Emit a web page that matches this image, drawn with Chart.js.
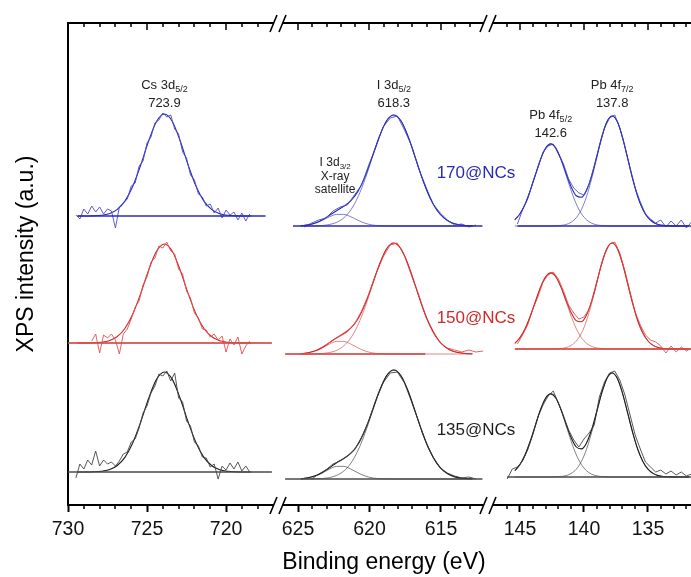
<!DOCTYPE html>
<html>
<head>
<meta charset="utf-8">
<title>XPS spectra</title>
<script src="https://cdn.jsdelivr.net/npm/chart.js@4.4.1/dist/chart.umd.min.js"></script>
<style>
  html, body { margin: 0; padding: 0; background: #fff; }
  #wrap { width: 691px; height: 577px; }
</style>
</head>
<body>
<div id="wrap"><canvas id="xps" width="691" height="577"></canvas></div>
<script>
const FONT = '"Liberation Sans", Arial, Helvetica, sans-serif';

// energy grids (eV)
const csFitEnergy = [729.4, 728.9, 728.4, 727.9, 727.4, 726.9, 726.4, 725.9, 725.4, 724.9, 724.4, 723.9,
  723.4, 722.9, 722.4, 721.9, 721.4, 720.9, 720.4, 719.9, 719.4, 718.9, 718.4];
const csRawEnergy = [729.5, 729.25, 729.0, 728.75, 728.5, 728.25, 728.0, 727.75, 727.5, 727.25, 727.0, 726.75,
  726.5, 726.25, 726.0, 725.75, 725.5, 725.25, 725.0, 724.75, 724.5, 724.25, 724.0, 723.75, 723.5, 723.25,
  723.0, 722.75, 722.5, 722.25, 722.0, 721.75, 721.5, 721.25, 721.0, 720.75, 720.5, 720.25, 720.0, 719.75,
  719.5, 719.25, 719.0, 718.75, 718.5];
const iFitEnergy = [624.8, 624.3, 623.8, 623.3, 622.8, 622.3, 621.8, 621.3, 620.8, 620.3, 619.8, 619.3,
  618.8, 618.3, 617.8, 617.3, 616.8, 616.3, 615.8, 615.3, 614.8, 614.3, 613.8, 613.3, 612.8];
const iRawEnergy = [624.55, 624.05, 623.55, 623.05, 622.55, 622.05, 621.55, 621.05, 620.55, 620.05, 619.55,
  619.05, 618.55, 618.05, 617.55, 617.05, 616.55, 616.05, 615.55, 615.05, 614.55, 614.05, 613.55, 613.05,
  612.55, 612.05];
const pbFitEnergy = [145.4, 145.0, 144.6, 144.2, 143.8, 143.4, 143.0, 142.6, 142.2, 141.8, 141.4, 141.0,
  140.6, 140.2, 139.8, 139.4, 139.0, 138.6, 138.2, 137.8, 137.4, 137.0, 136.6, 136.2, 135.8, 135.4, 135.0,
  134.6, 134.2, 133.8, 133.4, 133.0, 132.6, 132.2, 131.8];
const pbRawEnergy = [146.0, 145.6, 145.2, 144.8, 144.4, 144.0, 143.6, 143.2, 142.8, 142.4, 142.0, 141.6,
  141.2, 140.8, 140.4, 140.0, 139.6, 139.2, 138.8, 138.4, 138.0, 137.6, 137.2, 136.8, 136.4, 136.0, 135.6,
  135.2, 134.8, 134.4, 134.0, 133.6, 133.2, 132.8, 132.4, 132.0, 131.6];

const samples = ['170@NCs', '150@NCs', '135@NCs'];

// vertical offset of each stacked spectrum (a.u.)
const csOffset = [289, 162, 33];
const iOffset = [279, 151, 26];
const pbOffset = [279, 156, 28];

// extent of the background lines (eV)
const csBaseStart = [729.4, 730, 730];
const csBaseEnd = [717.5, 717.1, 717.1];
const iBaseStart = [625.35, 625.9, 625.9];
const iBaseEnd = [612.1, 616.1, 612.1];
const pbBaseStart = [145.2, 145.4, 146.0];
const pbBaseEnd = [131.6, 131.6, 131.6];

// Cs 3d5/2 : measured and fitted
const csRaw170 = [1, -3, 7, 2, 10, 4, 9, 2, 7, 5, -12, 9, 13, 17, 30, 33, 50, 55, 73, 79, 93, 96, 103, 99, 101,
  87, 82, 64, 58, 41, 36, 22, 19, 10, 12, 3, 8, -2, 6, 1, 4, -4, 3, -5, 2];
const csRaw150 = [null, null, null, null, 2, 9, -10, 8, 5, 9, 3, -11, 9, 14, 24, 36, 42, 58, 66, 81, 85, 97, 95,
  101, 92, 89, 74, 69, 52, 45, 30, 25, 14, 13, 6, 9, 3, 7, -9, 4, -2, 6, -11, -3, 2];
const csRaw135 = [-6, 8, 3, 12, 7, 21, 6, 12, 8, 10, 6, 11, 18, 20, 30, 33, 44, 59, 66, 79, 86, 98, 96, 101, 91,
  99, 74, 70, 51, 46, 30, 26, 15, 14, 5, 8, -7, 6, 2, 9, 3, 10, 1, 6, 0];
const csFit170 = [0, 0, 0.2, 0.7, 2.3, 6.4, 14.9, 29.8, 51, 75, 94.5, 102, 94.5, 75, 51, 29.8, 14.9, 6.4, 2.3,
  0.7, 0.2, 0, 0];
const csFit150 = [0, 0, 0.2, 0.7, 2.3, 6.2, 14.5, 28.9, 49.5, 72.8, 91.7, 99, 91.7, 72.8, 49.5, 28.9, 14.5, 6.2,
  2.3, 0.7, 0.2, 0, 0];
const csFit135 = [0, 0, 0.2, 0.7, 2.3, 6.3, 14.6, 29.2, 50, 73.5, 92.6, 100, 92.6, 73.5, 50, 29.2, 14.6, 6.3,
  2.3, 0.7, 0.2, 0, 0];

// I 3d5/2 with the I 3d3/2 X-ray satellite
const iRaw170 = [-1, 3, 6, 8, 15, 19, 21, 31, 41, 61, 79, 99, 108, 110, 96, 80, 57, 39, 22, 13, 6, 1, 2, -1, 1, null];
const iRaw150 = [null, null, 5, 9, 14, 18, 22, 30, 43, 60, 80, 97, 109, 111, 98, 78, 59, 37, 23, 11, 6, 4, 2, 4, 2, 3];
const iRaw135 = [null, 0, 5, 9, 15, 18, 23, 29, 42, 58, 79, 96, 106, 107, 96, 77, 57, 37, 22, 11, 6, 3, 1, 2, 0, null];
const iMain170 = [0, 0.1, 0.2, 0.5, 1.5, 3.6, 8.1, 16.2, 29.2, 47.2, 68.6, 89.6, 105.2, 111, 105.2, 89.6, 68.6,
  47.2, 29.2, 16.2, 8.1, 3.6, 1.5, 0.5, 0.2];
const iMain150 = [0, 0.1, 0.2, 0.5, 1.5, 3.6, 8.1, 16.2, 29.2, 47.2, 68.6, 89.6, 105.2, 111, 105.2, 89.6, 68.6,
  47.2, 29.2, 16.2, 8.1, 3.6, 1.5, 0.5, 0.2];
const iMain135 = [0, 0.1, 0.2, 0.5, 1.4, 3.6, 7.9, 15.9, 28.7, 46.3, 67.4, 88.0, 103.3, 109, 103.3, 88.0, 67.4,
  46.3, 28.7, 15.9, 7.9, 3.6, 1.4, 0.5, 0.2];
const iSat170 = [0.3, 1.0, 2.7, 5.7, 9.2, 11.6, 11.6, 9.2, 5.7, 2.7, 1.0, 0.3, 0.1, 0, 0, 0, 0, 0, 0, 0, 0, 0, 0, 0, 0];
const iSat150 = [0.3, 1.1, 3.0, 6.1, 9.9, 12.6, 12.6, 9.9, 6.1, 3.0, 1.1, 0.3, 0.1, 0, 0, 0, 0, 0, 0, 0, 0, 0, 0, 0, 0];
const iSat135 = [0.3, 1.1, 3.0, 6.1, 9.9, 12.6, 12.6, 9.9, 6.1, 3.0, 1.1, 0.3, 0.1, 0, 0, 0, 0, 0, 0, 0, 0, 0, 0, 0, 0];
const iEnv170 = [0.3, 1.1, 2.9, 6.2, 10.7, 15.2, 19.7, 25.4, 34.9, 49.9, 69.6, 89.9, 105.3, 111, 105.2, 89.6, 68.6,
  47.2, 29.2, 16.2, 8.1, 3.6, 1.5, 0.5, 0.2];
const iEnv150 = [0.3, 1.2, 3.2, 6.6, 11.4, 16.2, 20.7, 26.1, 35.3, 50.2, 69.7, 89.9, 105.3, 111, 105.2, 89.6, 68.6,
  47.2, 29.2, 16.2, 8.1, 3.6, 1.5, 0.5, 0.2];
const iEnv135 = [0.3, 1.2, 3.2, 6.6, 11.3, 16.2, 20.5, 25.8, 34.8, 49.3, 68.5, 88.3, 103.4, 109, 103.3, 88.0, 67.4,
  46.3, 28.7, 15.9, 7.9, 3.6, 1.4, 0.5, 0.2];

// Pb 4f doublet
const pbRaw170 = [null, null, 2, 16, 27, 44, 58, 74, 80, 82, 72, 62, 47, 38, 33, 31, 42, 60, 80, 98, 108, 111, 98,
  79, 58, 38, 24, 12, 7, 3, 6, -1, 5, 0, 6, -2, 4];
const pbRaw150 = [null, null, 5, 14, 24, 40, 52, 67, 74, 77, 70, 58, 44, 36, 30, 32, 40, 56, 77, 94, 105, 107, 96,
  78, 57, 37, 24, 14, 9, 7, 3, -4, 3, -3, 2, -2, 1];
const pbRaw135 = [-2, 8, 10, 16, 27, 42, 60, 72, 81, 86, 74, 61, 47, 37, 30, 38, 44, 52, 80, 95, 104, 106, 97, 82,
  62, 42, 28, 15, 10, 5, 7, 3, 6, 2, 5, 1, 3];
const pb52Fit170 = [6.2, 12.3, 21.9, 35.3, 51.0, 66.4, 77.8, 82, 77.8, 66.4, 51.0, 35.3, 21.9, 12.3, 6.2, 2.8, 1.1,
  0.4, 0.1, 0, 0, 0, 0, 0, 0, 0, 0, 0, 0, 0, 0, 0, 0, 0, 0];
const pb52Fit150 = [5.7, 11.4, 20.3, 32.7, 47.3, 61.6, 72.1, 76, 72.1, 61.6, 47.3, 32.7, 20.3, 11.4, 5.7, 2.6, 1.1,
  0.4, 0.1, 0, 0, 0, 0, 0, 0, 0, 0, 0, 0, 0, 0, 0, 0, 0, 0];
const pb52Fit135 = [6.3, 12.5, 22.2, 35.7, 51.6, 67.2, 78.8, 83, 78.8, 67.2, 51.6, 35.7, 22.2, 12.5, 6.3, 2.8, 1.2,
  0.4, 0.1, 0, 0, 0, 0, 0, 0, 0, 0, 0, 0, 0, 0, 0, 0, 0, 0];
const pb72Fit170 = [0, 0, 0, 0, 0, 0, 0, 0.1, 0.2, 0.6, 1.5, 3.8, 8.3, 16.5, 29.4, 47.3, 68.4, 89.1, 104.4, 110,
  104.4, 89.1, 68.4, 47.3, 29.4, 16.5, 8.3, 3.8, 1.5, 0.6, 0.2, 0.1, 0, 0, 0];
const pb72Fit150 = [0, 0, 0, 0, 0, 0, 0, 0.1, 0.2, 0.5, 1.5, 3.6, 8.0, 15.9, 28.3, 45.6, 65.9, 85.9, 100.6, 106,
  100.6, 85.9, 65.9, 45.6, 28.3, 15.9, 8.0, 3.6, 1.5, 0.5, 0.2, 0.1, 0, 0, 0];
const pb72Fit135 = [0, 0, 0, 0, 0, 0, 0, 0.1, 0.2, 0.5, 1.4, 3.6, 7.8, 15.6, 27.8, 44.7, 64.7, 84.2, 98.7, 104,
  98.7, 84.2, 64.7, 44.7, 27.8, 15.6, 7.8, 3.6, 1.4, 0.5, 0.2, 0.1, 0, 0, 0];
const pbEnv170 = [6.2, 12.3, 21.9, 35.3, 51.0, 66.4, 77.8, 82.1, 78.0, 67.0, 52.5, 39.1, 30.2, 28.8, 35.6, 50.1,
  69.5, 89.5, 104.5, 110, 104.4, 89.1, 68.4, 47.3, 29.4, 16.5, 8.3, 3.8, 1.5, 0.6, 0.2, 0.1, 0, 0, 0];
const pbEnv150 = [5.7, 11.4, 20.3, 32.7, 47.3, 61.6, 72.1, 76.1, 72.3, 62.1, 48.8, 36.3, 28.3, 27.3, 34.0, 48.2,
  67.0, 86.3, 100.7, 106, 100.6, 85.9, 65.9, 45.6, 28.3, 15.9, 8.0, 3.6, 1.5, 0.5, 0.2, 0.1, 0, 0, 0];
const pbEnv135 = [6.3, 12.5, 22.2, 35.7, 51.6, 67.2, 78.8, 83.1, 79.0, 67.7, 53.0, 39.3, 30.0, 28.1, 34.1, 47.5,
  65.9, 84.6, 98.8, 104, 98.7, 84.2, 64.7, 44.7, 27.8, 15.6, 7.8, 3.6, 1.4, 0.5, 0.2, 0.1, 0, 0, 0];

// fitted peak positions written above the peaks (eV)
const peakNames = ['Cs 3d', 'I 3d', 'Pb 4f', 'Pb 4f'];
const peakSubs = ['5/2', '5/2', '5/2', '7/2'];
const peakCenters = [723.9, 618.3, 142.6, 137.8];
const peakAxes = ['xCs', 'xI', 'xPb', 'xPb'];

// group per sample
const csRaw = [csRaw170, csRaw150, csRaw135];
const csFit = [csFit170, csFit150, csFit135];
const iRaw = [iRaw170, iRaw150, iRaw135];
const iMain = [iMain170, iMain150, iMain135];
const iSat = [iSat170, iSat150, iSat135];
const iEnv = [iEnv170, iEnv150, iEnv135];
const pbRaw = [pbRaw170, pbRaw150, pbRaw135];
const pb52 = [pb52Fit170, pb52Fit150, pb52Fit135];
const pb72 = [pb72Fit170, pb72Fit150, pb72Fit135];
const pbEnv = [pbEnv170, pbEnv150, pbEnv135];

const palette = [
  { fit: '#2626ae', raw: 'rgba(75,75,210,0.9)', part: 'rgba(40,40,170,0.75)', base: '#2b2bb3', text: '#2a2ab4' },
  { fit: '#d02222', raw: 'rgba(228,80,80,0.9)', part: 'rgba(205,40,40,0.7)', base: 'rgba(214,74,74,0.85)', text: '#d42828' },
  { fit: '#1a1a1a', raw: 'rgba(70,70,70,0.9)', part: 'rgba(30,30,30,0.7)', base: '#4a4a4a', text: '#1e1e1e' }
];

const points = (energies, values, offset) =>
  energies.map((e, i) => ({ x: e, y: values[i] === null ? null : values[i] + offset }));

const line = (data, axis, color, width, smooth) => ({
  data: data,
  xAxisID: axis,
  yAxisID: 'y',
  borderColor: color,
  borderWidth: width,
  pointRadius: 0,
  fill: false,
  tension: 0,
  cubicInterpolationMode: smooth ? 'monotone' : 'default'
});

const flat = (from, to, level) => [{ x: from, y: level }, { x: to, y: level }];

const datasets = [];
samples.forEach((name, s) => {
  const c = palette[s];
  const baseWidth = s === 1 ? 1.9 : 1.4;
  // Cs region
  datasets.push(line(flat(csBaseStart[s], csBaseEnd[s], csOffset[s]), 'xCs', c.base, baseWidth));
  datasets.push(line(points(csRawEnergy, csRaw[s], csOffset[s]), 'xCs', c.raw, 1));
  datasets.push(line(points(csFitEnergy, csFit[s], csOffset[s]), 'xCs', c.fit, 1.1, true));
  // I region
  datasets.push(line(flat(iBaseStart[s], iBaseEnd[s], iOffset[s]), 'xI', c.base, baseWidth));
  datasets.push(line(points(iFitEnergy, iSat[s], iOffset[s]), 'xI', c.part, 0.8, true));
  datasets.push(line(points(iFitEnergy, iMain[s], iOffset[s]), 'xI', c.part, 0.8, true));
  datasets.push(line(points(iRawEnergy, iRaw[s], iOffset[s]), 'xI', c.raw, 1));
  datasets.push(line(points(iFitEnergy, iEnv[s], iOffset[s]), 'xI', c.fit, 1.1, true));
  // Pb region
  datasets.push(line(flat(pbBaseStart[s], pbBaseEnd[s], pbOffset[s]), 'xPb', c.base, baseWidth));
  datasets.push(line(points(pbFitEnergy, pb52[s], pbOffset[s]), 'xPb', c.part, 0.8, true));
  datasets.push(line(points(pbFitEnergy, pb72[s], pbOffset[s]), 'xPb', c.part, 0.8, true));
  datasets.push(line(points(pbRawEnergy, pbRaw[s], pbOffset[s]), 'xPb', c.raw, 1));
  datasets.push(line(points(pbFitEnergy, pbEnv[s], pbOffset[s]), 'xPb', c.fit, 1.1, true));
});

// one piece of the broken energy axis
const energyAxis = (min, max, weight, title) => ({
  type: 'linear',
  position: 'bottom',
  stack: 'energy',
  stackWeight: weight,
  reverse: true,
  min: min,
  max: max,
  afterBuildTicks: (sc) => {
    const ticks = [];
    for (let v = Math.floor(sc.max / 5) * 5; v >= sc.min; v -= 5) ticks.push({ value: v });
    sc.ticks = ticks;
  },
  afterFit: (sc) => { sc.height = 72; },
  grid: { drawOnChartArea: false, drawTicks: true, tickLength: 7, tickWidth: 2, tickColor: '#000' },
  border: { display: true, color: '#000', width: 2 },
  ticks: {
    autoSkip: false, maxRotation: 0, padding: 6, color: '#111',
    font: { size: 19.5, family: FONT },
    callback: (v) => String(v)
  },
  title: {
    display: !!title, text: title || '', color: '#000',
    font: { size: 23, family: FONT }, padding: { top: 0, bottom: 1 }
  }
});

const sub = (ctx, cx, cy, main, small, size, color) => {
  const smallSize = Math.round(size * 0.7);
  ctx.font = size + 'px ' + FONT;
  const w1 = ctx.measureText(main).width;
  ctx.font = smallSize + 'px ' + FONT;
  const w2 = small ? ctx.measureText(small).width : 0;
  const x = cx - (w1 + w2) / 2;
  ctx.fillStyle = color;
  ctx.textAlign = 'left';
  ctx.textBaseline = 'middle';
  ctx.font = size + 'px ' + FONT;
  ctx.fillText(main, x, cy);
  if (small) {
    ctx.font = smallSize + 'px ' + FONT;
    ctx.fillText(small, x + w1, cy + size * 0.32);
  }
};

// frame, minor ticks, axis breaks and text
const decorations = {
  id: 'decorations',
  afterDraw(chart) {
    const { ctx, chartArea: area, scales } = chart;
    const parts = [scales.xCs, scales.xI, scales.xPb];
    const breaks = [scales.xCs.right, scales.xI.right];
    const y = scales.y;
    ctx.save();

    ctx.strokeStyle = '#000';
    ctx.lineWidth = 2;
    ctx.beginPath();
    ctx.moveTo(area.left - 1, area.top);
    ctx.lineTo(area.right, area.top);
    ctx.stroke();

    ctx.lineWidth = 1.5;
    ctx.beginPath();
    parts.forEach((sc) => {
      for (let v = Math.ceil(sc.min); v <= Math.floor(sc.max); v++) {
        const px = Math.round(sc.getPixelForValue(v));
        if (breaks.some((b) => Math.abs(px - b) < 8)) continue;
        const major = v % 5 === 0;
        if (!major) {
          ctx.moveTo(px, area.bottom);
          ctx.lineTo(px, area.bottom + 4);
        }
        ctx.moveTo(px, area.top);
        ctx.lineTo(px, area.top + (major ? 7 : 4));
      }
    });
    ctx.stroke();

    breaks.forEach((bx) => {
      [area.top, area.bottom].forEach((ay) => {
        ctx.fillStyle = '#fff';
        ctx.fillRect(bx - 5.5, ay - 2, 9, 4);
        ctx.strokeStyle = '#000';
        ctx.lineWidth = 1.6;
        ctx.beginPath();
        ctx.moveTo(bx - 9, ay + 9);
        ctx.lineTo(bx - 2, ay - 8);
        ctx.moveTo(bx, ay + 9);
        ctx.lineTo(bx + 7, ay - 8);
        ctx.stroke();
      });
    });

    // peak assignments
    peakCenters.forEach((e, i) => {
      const px = scales[peakAxes[i]].getPixelForValue(e);
      const top = i === 2 ? 390 : 420;
      sub(ctx, px, y.getPixelForValue(top), peakNames[i], peakSubs[i], 13, '#222');
      sub(ctx, px, y.getPixelForValue(top - 18), e.toFixed(1), '', 13, '#222');
    });
    const satX = scales.xI.getPixelForValue(622.4);
    sub(ctx, satX, y.getPixelForValue(342), 'I 3d', '3/2', 12, '#222');
    sub(ctx, satX, y.getPixelForValue(328), 'X-ray', '', 12, '#222');
    sub(ctx, satX, y.getPixelForValue(315), 'satellite', '', 12, '#222');

    // sample names
    const nameLevels = [332, 187, 75];
    samples.forEach((name, s) => {
      sub(ctx, scales.xI.getPixelForValue(612.55), y.getPixelForValue(nameLevels[s]), name, '', 17, palette[s].text);
    });

    // intensity axis title
    ctx.translate(33, (area.top + area.bottom) / 2 - 10);
    ctx.rotate(-Math.PI / 2);
    ctx.fillStyle = '#000';
    ctx.font = '23px ' + FONT;
    ctx.textAlign = 'center';
    ctx.textBaseline = 'alphabetic';
    ctx.fillText('XPS intensity (a.u.)', 0, 0);
    ctx.restore();
  }
};

Chart.defaults.font.family = FONT;
Chart.defaults.color = '#000';

new Chart(document.getElementById('xps'), {
  type: 'line',
  data: { datasets: datasets },
  options: {
    responsive: false,
    devicePixelRatio: 1,
    animation: false,
    layout: { padding: { left: 0, top: 23, right: 0, bottom: 0 } },
    plugins: { legend: { display: false }, tooltip: { enabled: false } },
    scales: {
      xCs: energyAxis(716.65, 730, 211),
      xI: energyAxis(611.64, 626.33, 210, 'Binding energy (eV)'),
      xPb: energyAxis(131.64, 147.42, 202),
      y: {
        type: 'linear',
        position: 'left',
        min: 0,
        max: 482,
        afterFit: (sc) => { sc.width = 68; },
        ticks: { display: false },
        grid: { display: false, drawTicks: false },
        border: { display: true, color: '#000', width: 2 }
      }
    }
  },
  plugins: [decorations]
});
</script>
</body>
</html>
